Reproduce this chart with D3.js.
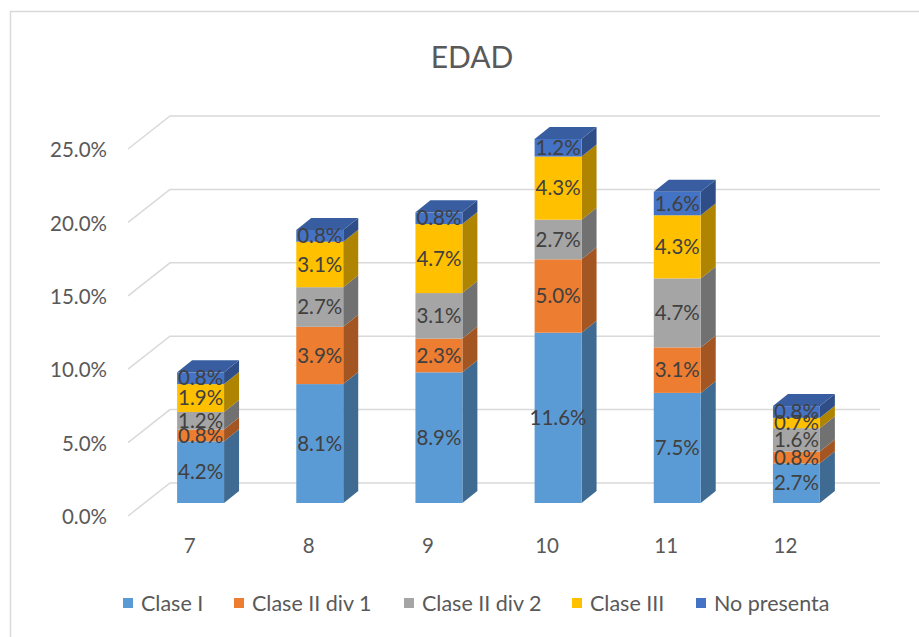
<html>
<head>
<meta charset="utf-8">
<script src="https://d3js.org/d3.v7.min.js"></script>
<style>
  body { margin: 0; background: #fff; font-family: Lato, "Noto Sans", sans-serif; }
  text { fill: #595959; }
</style>
</head>
<body>
<div id="chart"></div>
<script>
  var categories = ["7", "8", "9", "10", "11", "12"];
  var seriesNames = ["Clase I", "Clase II div 1", "Clase II div 2", "Clase III", "No presenta"];
  var claseI = [4.2, 8.1, 8.9, 11.6, 7.5, 2.7];
  var claseIIdiv1 = [0.8, 3.9, 2.3, 5.0, 3.1, 0.8];
  var claseIIdiv2 = [1.2, 2.7, 3.1, 2.7, 4.7, 1.6];
  var claseIII = [1.9, 3.1, 4.7, 4.3, 4.3, 0.7];
  var noPresenta = [0.8, 0.8, 0.8, 1.2, 1.6, 0.8];
  var yTicks = [0, 5, 10, 15, 20, 25];
  var colors = ["#5b9bd5", "#ed7d31", "#a5a5a5", "#ffc000", "#4472c4"];

  var W = 919, H = 637;
  var series = [claseI, claseIIdiv1, claseIIdiv2, claseIII, noPresenta];

  var svg = d3.select("#chart").append("svg")
    .attr("width", W)
    .attr("height", H);

  // chart frame
  svg.append("rect")
    .attr("x", 10.5).attr("y", 11.5)
    .attr("width", 930).attr("height", 640)
    .attr("fill", "none")
    .attr("stroke", "#d9d9d9")
    .attr("stroke-width", 1.5);

  svg.append("text")
    .attr("x", 472).attr("y", 57)
    .attr("dy", "0.35em")
    .attr("text-anchor", "middle")
    .style("font-size", "30px")
    .text("EDAD");

  // back wall value scale and depth offsets
  var yBack = d3.scaleLinear().domain([0, 25]).range([483, 116]);
  var wallDx = 42, wallDy = 33;
  var wallLeft = 170, wallRight = 880;

  var grid = svg.append("g");
  yTicks.forEach(function(t) {
    grid.append("path")
      .attr("d", "M" + (wallLeft - wallDx) + "," + (yBack(t) + wallDy) +
                 "L" + wallLeft + "," + yBack(t) + "H" + wallRight)
      .attr("fill", "none")
      .attr("stroke", "#d9d9d9")
      .attr("stroke-width", 1.5);
  });

  svg.append("g").selectAll("text")
    .data(yTicks)
    .enter().append("text")
    .attr("x", 107)
    .attr("y", function(d) { return yBack(d) + wallDy + 1; })
    .attr("dy", "0.35em")
    .attr("text-anchor", "end")
    .style("font-size", "20.5px")
    .text(function(d) { return d3.format(".1f")(d) + "%"; });

  // bar front faces
  var x = d3.scaleBand()
    .domain(categories)
    .range([141, 856])
    .paddingInner(0.606)
    .paddingOuter(0.303);
  var y = d3.scaleLinear().domain([0, 25]).range([503, 503 - 25 * 14.68]);
  var bx = 15, by = 12;

  svg.append("g").selectAll("text")
    .data(categories)
    .enter().append("text")
    .attr("x", function(d) { return x(d) + x.bandwidth() / 2 - 11; })
    .attr("y", 546)
    .attr("dy", "0.35em")
    .attr("text-anchor", "middle")
    .style("font-size", "20.5px")
    .text(function(d) { return d; });

  var stackData = categories.map(function(c, i) {
    var o = { cat: c };
    seriesNames.forEach(function(s, k) { o[s] = series[k][i]; });
    return o;
  });
  var stacked = d3.stack().keys(seriesNames)(stackData);

  var bars = svg.append("g");
  stacked.forEach(function(layer, k) {
    var col = d3.color(colors[k]);
    var g = bars.append("g");
    layer.forEach(function(seg, i) {
      var x0 = x(categories[i]), x1 = x0 + x.bandwidth();
      var yt = y(seg[1]), yb = y(seg[0]);
      // right side
      g.append("path")
        .attr("d", "M" + x1 + "," + yb + "L" + (x1 + bx) + "," + (yb - by) +
                   "L" + (x1 + bx) + "," + (yt - by) + "L" + x1 + "," + yt + "Z")
        .attr("fill", col.darker(1.05));
      // front
      g.append("rect")
        .attr("x", x0).attr("y", yt)
        .attr("width", x.bandwidth())
        .attr("height", yb - yt)
        .attr("fill", col);
      if (k === seriesNames.length - 1) {
        g.append("path")
          .attr("d", "M" + x0 + "," + yt + "L" + (x0 + bx) + "," + (yt - by) +
                     "H" + (x1 + bx) + "L" + x1 + "," + yt + "Z")
          .attr("fill", col.darker(0.55));
      }
    });
  });

  var labels = svg.append("g");
  stacked.forEach(function(layer, k) {
    layer.forEach(function(seg, i) {
      labels.append("text")
        .attr("x", x(categories[i]) + x.bandwidth() / 2)
        .attr("y", (y(seg[0]) + y(seg[1])) / 2)
        .attr("dy", "0.35em")
        .attr("text-anchor", "middle")
        .style("font-size", "20.5px")
        .style("fill", "#404040")
        .text(d3.format(".1f")(series[k][i]) + "%");
    });
  });

  // legend
  var legendX = [123, 234, 404, 572, 696];
  var legend = svg.append("g").selectAll("g")
    .data(seriesNames)
    .enter().append("g")
    .attr("transform", function(d, i) { return "translate(" + legendX[i] + ",603)"; });
  legend.append("rect")
    .attr("x", 0).attr("y", -5)
    .attr("width", 10).attr("height", 10)
    .attr("fill", function(d, i) { return colors[i]; });
  legend.append("text")
    .attr("x", 18).attr("y", 0)
    .attr("dy", "0.35em")
    .style("font-size", "21.5px")
    .text(function(d) { return d; });
</script>
</body>
</html>
